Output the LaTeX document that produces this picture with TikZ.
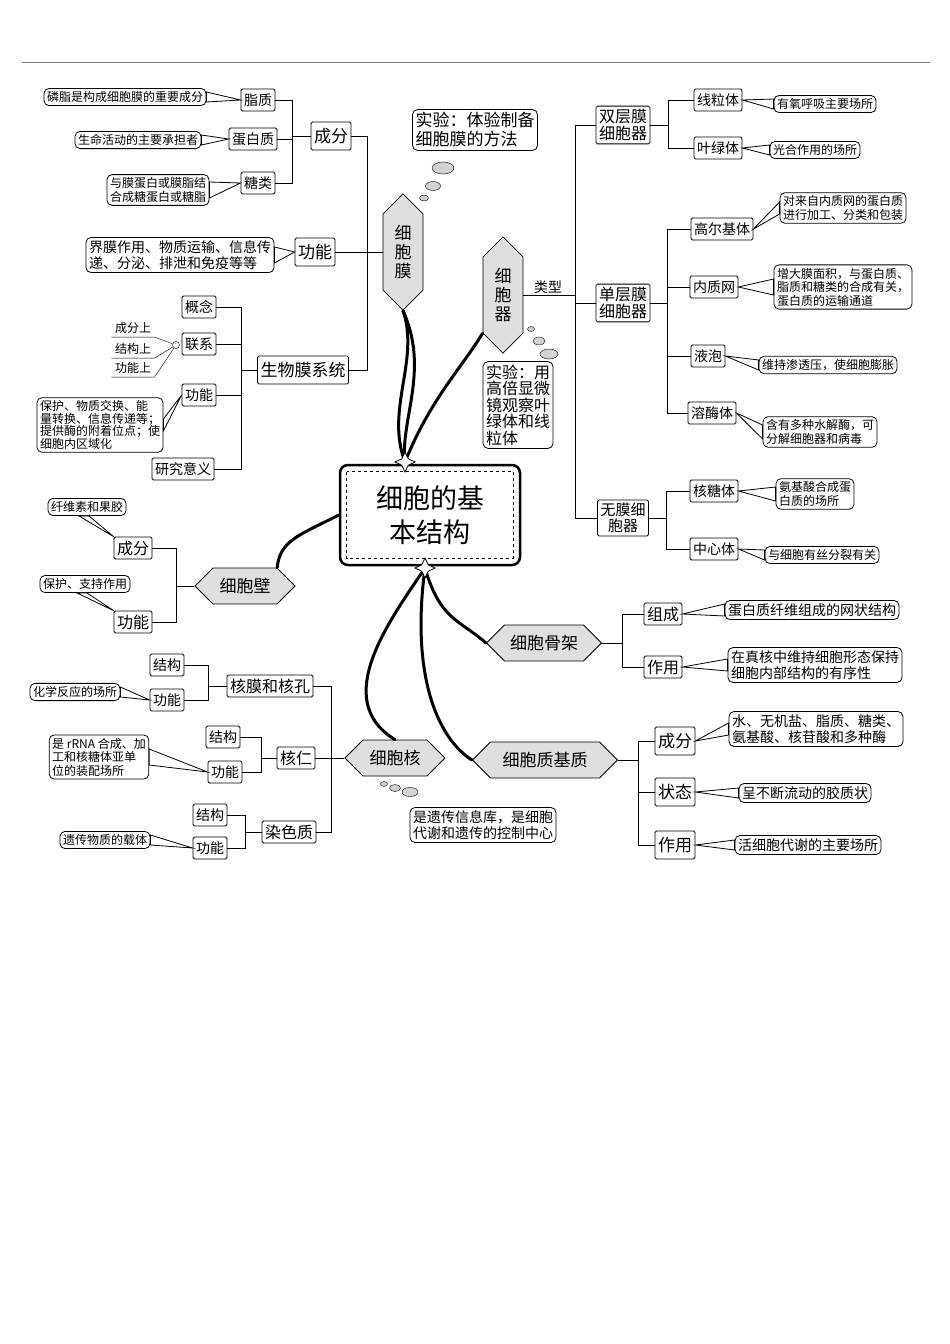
\documentclass[tikz,border=0pt]{standalone}
\usepackage{fontspec}
\setmainfont{Noto Sans CJK SC}
\usetikzlibrary{shapes,shapes.geometric,positioning,calc}
\tikzset{
	every node/.style = { align = center },
	itm/.style = { draw, thick, rounded corners=1.5pt, inner sep=3pt, minimum height=22pt, font=\fontsize{14}{16}\selectfont },
	big/.style = { itm, font=\fontsize{17}{19}\selectfont, minimum height=28pt },
	nte/.style = { draw, thick, rounded corners=5pt, inner sep=3pt, font=\fontsize{12}{13.5}\selectfont, fill=white },
	hex/.style = { draw, thick, signal, signal to=west and east, fill=gray!25, minimum height=36pt, font=\fontsize{17}{19}\selectfont },
	vhex/.style = { draw, thick, signal, signal to=north and south, fill=gray!25, minimum width=40pt, minimum height=100pt, font=\fontsize{17}{19}\selectfont },
	bub/.style = { draw, ellipse, fill=gray!35, inner sep=0pt },
	brn/.style = { line width=3pt, line cap=round },
	str/.style = { draw, thick, star, star points=4, star point ratio=2.2, fill=white, minimum size=20pt, inner sep=0pt },
	tre/.style = { thick },
}
\newcommand{\ptr}[3]{\filldraw[thick,fill=white] (#1) -- ($(#2)+(0,#3)$) -- ($(#2)-(0,#3)$) -- cycle;}
\begin{document}
\begin{tikzpicture}[x=1pt,y=-1pt]
\useasboundingbox (0,0) rectangle (950,1344);
\draw[gray,thick] (22,62) -- (930,62);

% centre
\node (core) [draw,line width=2.5pt,rounded corners=8pt,minimum width=180pt,minimum height=100pt,font=\fontsize{27}{34}\selectfont] at (430,515) {细胞的基\\本结构};
\draw[thick,dashed] ($(core.north west)+(8,8)$) rectangle ($(core.south east)+(-8,-8)$);

% cell membrane
\node (mem)   [vhex] at (403,252) {细\\胞\\膜};
\node (mexp)  [nte,font=\fontsize{17}{19}\selectfont,align=left] at (475,130) {实验：体验制备\\细胞膜的方法};
\node (mb1) [bub,minimum width=22pt,minimum height=12pt] at (443,168) {};
\node (mb2) [bub,minimum width=15pt,minimum height=9pt] at (433,186) {};
\node (mb3) [bub,minimum width=9pt,minimum height=6pt] at (424,198) {};
\node (cf)    [big] at (331,136) {成分};
\node (gn)    [big] at (315,252) {功能};
\node (swm)   [big] at (303,370) {生物膜系统};
\draw[tre] (mem.west) -- ++(-15,0) |- (cf.east);
\draw[tre] (mem.west) -- ++(-15,0) |- (swm.east);
\draw[tre] (mem.west) -- (gn.east);
\node (zz)    [itm] at (258,100) {脂质};
\node (dbz)   [itm] at (253,139) {蛋白质};
\node (tl)    [itm] at (258,183) {糖类};
\foreach \c in {zz,dbz,tl} \draw[tre] (cf.west) -- ++(-18,0) |- (\c.east);
\node (nzz)   [nte] at (125,97)  {磷脂是构成细胞膜的重要成分};
\node (ndbz)  [nte] at (138,140) {生命活动的主要承担者};
\node (ntl)   [nte] at (158,190) {与膜蛋白或膜脂结\\合成糖蛋白或糖脂};
\node (ngn)   [nte,font=\fontsize{14}{16}\selectfont,align=left] at (180,255) {界膜作用、物质运输、信息传\\递、分泌、排泄和免疫等等};
\ptr{zz.west}{nzz.east}{5}
\ptr{dbz.west}{ndbz.east}{5}
\ptr{tl.west}{ntl.east}{8}
\ptr{gn.west}{ngn.east}{8}
\node (gnn)   [itm] at (199,307) {概念};
\node (lx)    [itm] at (199,344) {联系};
\node (sgn)   [itm] at (199,395) {功能};
\node (yjyy)  [itm] at (183,469) {研究意义};
\foreach \c in {gnn,lx,sgn,yjyy} \draw[tre] (swm.west) -- ++(-16,0) |- (\c.east);
\node (lxo)   [draw,circle,inner sep=0pt,minimum size=7pt,font=\tiny] at (176,345) {-};
\node (lx1)   [font=\fontsize{12}{13}\selectfont] at (133,328) {成分上};
\node (lx2)   [font=\fontsize{12}{13}\selectfont] at (133,349) {结构上};
\node (lx3)   [font=\fontsize{12}{13}\selectfont] at (133,368) {功能上};
\foreach \c in {lx1,lx2,lx3} \draw (lxo) -- (\c.south east) -- (\c.south west);
\node (nsgn)  [nte,align=left,font=\fontsize{12}{12.5}\selectfont] at (100,425) {保护、物质交换、能\\量转换、信息传递等；\\提供酶的附着位点；使\\细胞内区域化};
\ptr{sgn.west}{nsgn.east}{6}

% organelles
\node (org)   [vhex] at (503,295) {细\\胞\\器};
\node (lxing) [font=\fontsize{14}{16}\selectfont] at (548,287) {类型};
\node (ob1) [bub,minimum width=7pt,minimum height=5pt] at (531,329) {};
\node (ob2) [bub,minimum width=12pt,minimum height=8pt] at (539,341) {};
\node (ob3) [bub,minimum width=18pt,minimum height=10pt] at (549,354) {};
\node (oexp)  [nte,font=\fontsize{16}{16.5}\selectfont,align=left] at (518,405) {实验：用\\高倍显微\\镜观察叶\\绿体和线\\粒体};
\node (sc)    [big,font=\fontsize{16}{17}\selectfont] at (623,125) {双层膜\\细胞器};
\node (dc)    [big,font=\fontsize{16}{17}\selectfont] at (623,303) {单层膜\\细胞器};
\node (wc)    [big,font=\fontsize{15}{16}\selectfont] at (623,518) {无膜细\\胞器};
\foreach \c in {sc,dc,wc} \draw[tre] (org.east) -- ++(52,0) |- (\c.west);
\node (xlt)   [itm] at (718,100) {线粒体};
\node (ylt)   [itm] at (718,148) {叶绿体};
\foreach \c in {xlt,ylt} \draw[tre] (sc.east) -- ++(18,0) |- (\c.west);
\node (nxlt)  [nte] at (825,104) {有氧呼吸主要场所};
\node (nylt)  [nte] at (815,150) {光合作用的场所};
\node (gej)   [itm] at (722,229) {高尔基体};
\node (nzw)   [itm] at (714,287) {内质网};
\node (yp)    [itm] at (708,356) {液泡};
\node (rmt)   [itm] at (712,413) {溶酶体};
\foreach \c in {gej,nzw,yp,rmt} \draw[tre] (dc.east) -- ++(17,0) |- (\c.west);
\node (ngej)  [nte] at (843,208) {对来自内质网的蛋白质\\进行加工、分类和包装};
\node (nnzw)  [nte,align=left] at (843,287) {增大膜面积，与蛋白质、\\脂质和糖类的合成有关，\\蛋白质的运输通道};
\node (nyp)   [nte] at (828,365) {维持渗透压，使细胞膨胀};
\node (nrmt)  [nte,align=left] at (820,432) {含有多种水解酶，可\\分解细胞器和病毒};
\node (htt)   [itm] at (714,491) {核糖体};
\node (zxt)   [itm] at (714,549) {中心体};
\foreach \c in {htt,zxt} \draw[tre] (wc.east) -- ++(17,0) |- (\c.west);
\node (nhtt)  [nte,align=left] at (815,494) {氨基酸合成蛋\\白质的场所};
\node (nzxt)  [nte] at (822,555) {与细胞有丝分裂有关};
\ptr{xlt.east}{nxlt.west}{5}
\ptr{ylt.east}{nylt.west}{5}
\ptr{gej.east}{ngej.west}{6}
\ptr{nzw.east}{nnzw.west}{8}
\ptr{yp.east}{nyp.west}{5}
\ptr{rmt.east}{nrmt.west}{7}
\ptr{htt.east}{nhtt.west}{7}
\ptr{zxt.east}{nzxt.west}{5}

% cell wall
\node (wall)  [hex,minimum width=100pt] at (245,586) {细胞壁};
\node (wcf)   [itm,font=\fontsize{16}{18}\selectfont] at (133,548) {成分};
\node (wgn)   [itm,font=\fontsize{16}{18}\selectfont] at (133,622) {功能};
\foreach \c in {wcf,wgn} \draw[tre] (wall.west) -- ++(-18,0) |- (\c.east);
\node (nwcf)  [nte] at (87,507) {纤维素和果胶};
\node (nwgn)  [nte] at (85,584) {保护、支持作用};
\filldraw[thick,fill=white] (wcf.north west) -- ($(nwcf.south)+(-8,0)$) -- ($(nwcf.south)+(2,0)$) -- cycle;
\filldraw[thick,fill=white] (wgn.north west) -- ($(nwgn.south)+(-8,0)$) -- ($(nwgn.south)+(2,0)$) -- cycle;

% nucleus
\node (nuc)   [hex,minimum width=100pt] at (395,758) {细胞核};
\node (nb1) [bub,minimum width=7pt,minimum height=5pt] at (384,784) {};
\node (nb2) [bub,minimum width=11pt,minimum height=7pt] at (395,788) {};
\node (nb3) [bub,minimum width=16pt,minimum height=9pt] at (410,792) {};
\node (nnuc)  [nte,font=\fontsize{14}{16}\selectfont,align=left] at (483,825) {是遗传信息库，是细胞\\代谢和遗传的控制中心};
\node (hm)    [itm,font=\fontsize{16}{18}\selectfont] at (270,686) {核膜和核孔};
\node (hr)    [itm,font=\fontsize{16}{18}\selectfont] at (296,758) {核仁};
\node (rsz)   [itm,font=\fontsize{16}{18}\selectfont] at (289,832) {染色质};
\foreach \c in {hm,hr,rsz} \draw[tre] (nuc.west) -- ++(-13,0) |- (\c.east);
\node (hmj)   [itm] at (167,665) {结构};
\node (hmg)   [itm] at (167,700) {功能};
\foreach \c in {hmj,hmg} \draw[tre] (hm.west) -- ++(-18,0) |- (\c.east);
\node (hrj)   [itm] at (223,737) {结构};
\node (hrg)   [itm] at (225,772) {功能};
\foreach \c in {hrj,hrg} \draw[tre] (hr.west) -- ++(-15,0) |- (\c.east);
\node (rszj)  [itm] at (210,815) {结构};
\node (rszg)  [itm] at (210,848) {功能};
\foreach \c in {rszj,rszg} \draw[tre] (rsz.west) -- ++(-16,0) |- (\c.east);
\node (nhmg)  [nte] at (75,692) {化学反应的场所};
\node (nhrg)  [nte,align=left] at (99,757) {是 rRNA 合成、加\\工和核糖体亚单\\位的装配场所};
\node (nrszg) [nte] at (105,840) {遗传物质的载体};
\ptr{hmg.west}{nhmg.east}{5}
\ptr{hrg.west}{nhrg.east}{8}
\ptr{rszg.west}{nrszg.east}{5}

% cytoskeleton
\node (csk)   [hex,minimum width=115pt] at (544,643) {细胞骨架};
\node (zc)    [itm,font=\fontsize{16}{18}\selectfont] at (663,614) {组成};
\node (zy)    [itm,font=\fontsize{16}{18}\selectfont] at (663,667) {作用};
\foreach \c in {zc,zy} \draw[tre] (csk.east) -- ++(20,0) |- (\c.west);
\node (nzc)   [nte,font=\fontsize{14}{16}\selectfont] at (812,610) {蛋白质纤维组成的网状结构};
\node (nzy)   [nte,font=\fontsize{14}{16}\selectfont,align=left] at (815,665) {在真核中维持细胞形态保持\\细胞内部结构的有序性};
\ptr{zc.east}{nzc.west}{6}
\ptr{zy.east}{nzy.west}{6}

% cytoplasmic matrix
\node (cpm)   [hex,minimum width=145pt] at (545,760) {细胞质基质};
\node (mcf)   [big] at (675,741) {成分};
\node (mzt)   [big] at (675,792) {状态};
\node (mzy)   [big] at (675,845) {作用};
\foreach \c in {mcf,mzt,mzy} \draw[tre] (cpm.east) -- ++(20,0) |- (\c.west);
\node (nmcf)  [nte,font=\fontsize{14}{16}\selectfont,align=left] at (816,729) {水、无机盐、脂质、糖类、\\氨基酸、核苷酸和多种酶};
\node (nmzt)  [nte,font=\fontsize{14}{16}\selectfont] at (805,793) {呈不断流动的胶质状};
\node (nmzy)  [nte,font=\fontsize{14}{16}\selectfont] at (808,845) {活细胞代谢的主要场所};
\ptr{mcf.east}{nmcf.west}{6}
\ptr{mzt.east}{nmzt.west}{5}
\ptr{mzy.east}{nmzy.west}{5}

% branches
\draw[brn] (mem.south) .. controls (420,360) and (385,410) .. (405,462);
\draw[brn] (mem.south) .. controls (430,370) and (400,420) .. (405,462);
\draw[brn] (org.south west) .. controls (460,370) and (430,400) .. (405,462);
\draw[brn] (wall.north east) .. controls (280,540) and (300,535) .. (core.west);
\draw[brn] (425,568) .. controls (390,620) and (330,700) .. (nuc.north);
\draw[brn] (425,568) .. controls (440,620) and (460,620) .. (csk.west);
\draw[brn] (425,568) .. controls (410,680) and (440,740) .. (cpm.west);
\node (tstar) [str] at (405,462) {};
\node (bstar) [str] at (425,568) {};
\end{tikzpicture}
\end{document}
